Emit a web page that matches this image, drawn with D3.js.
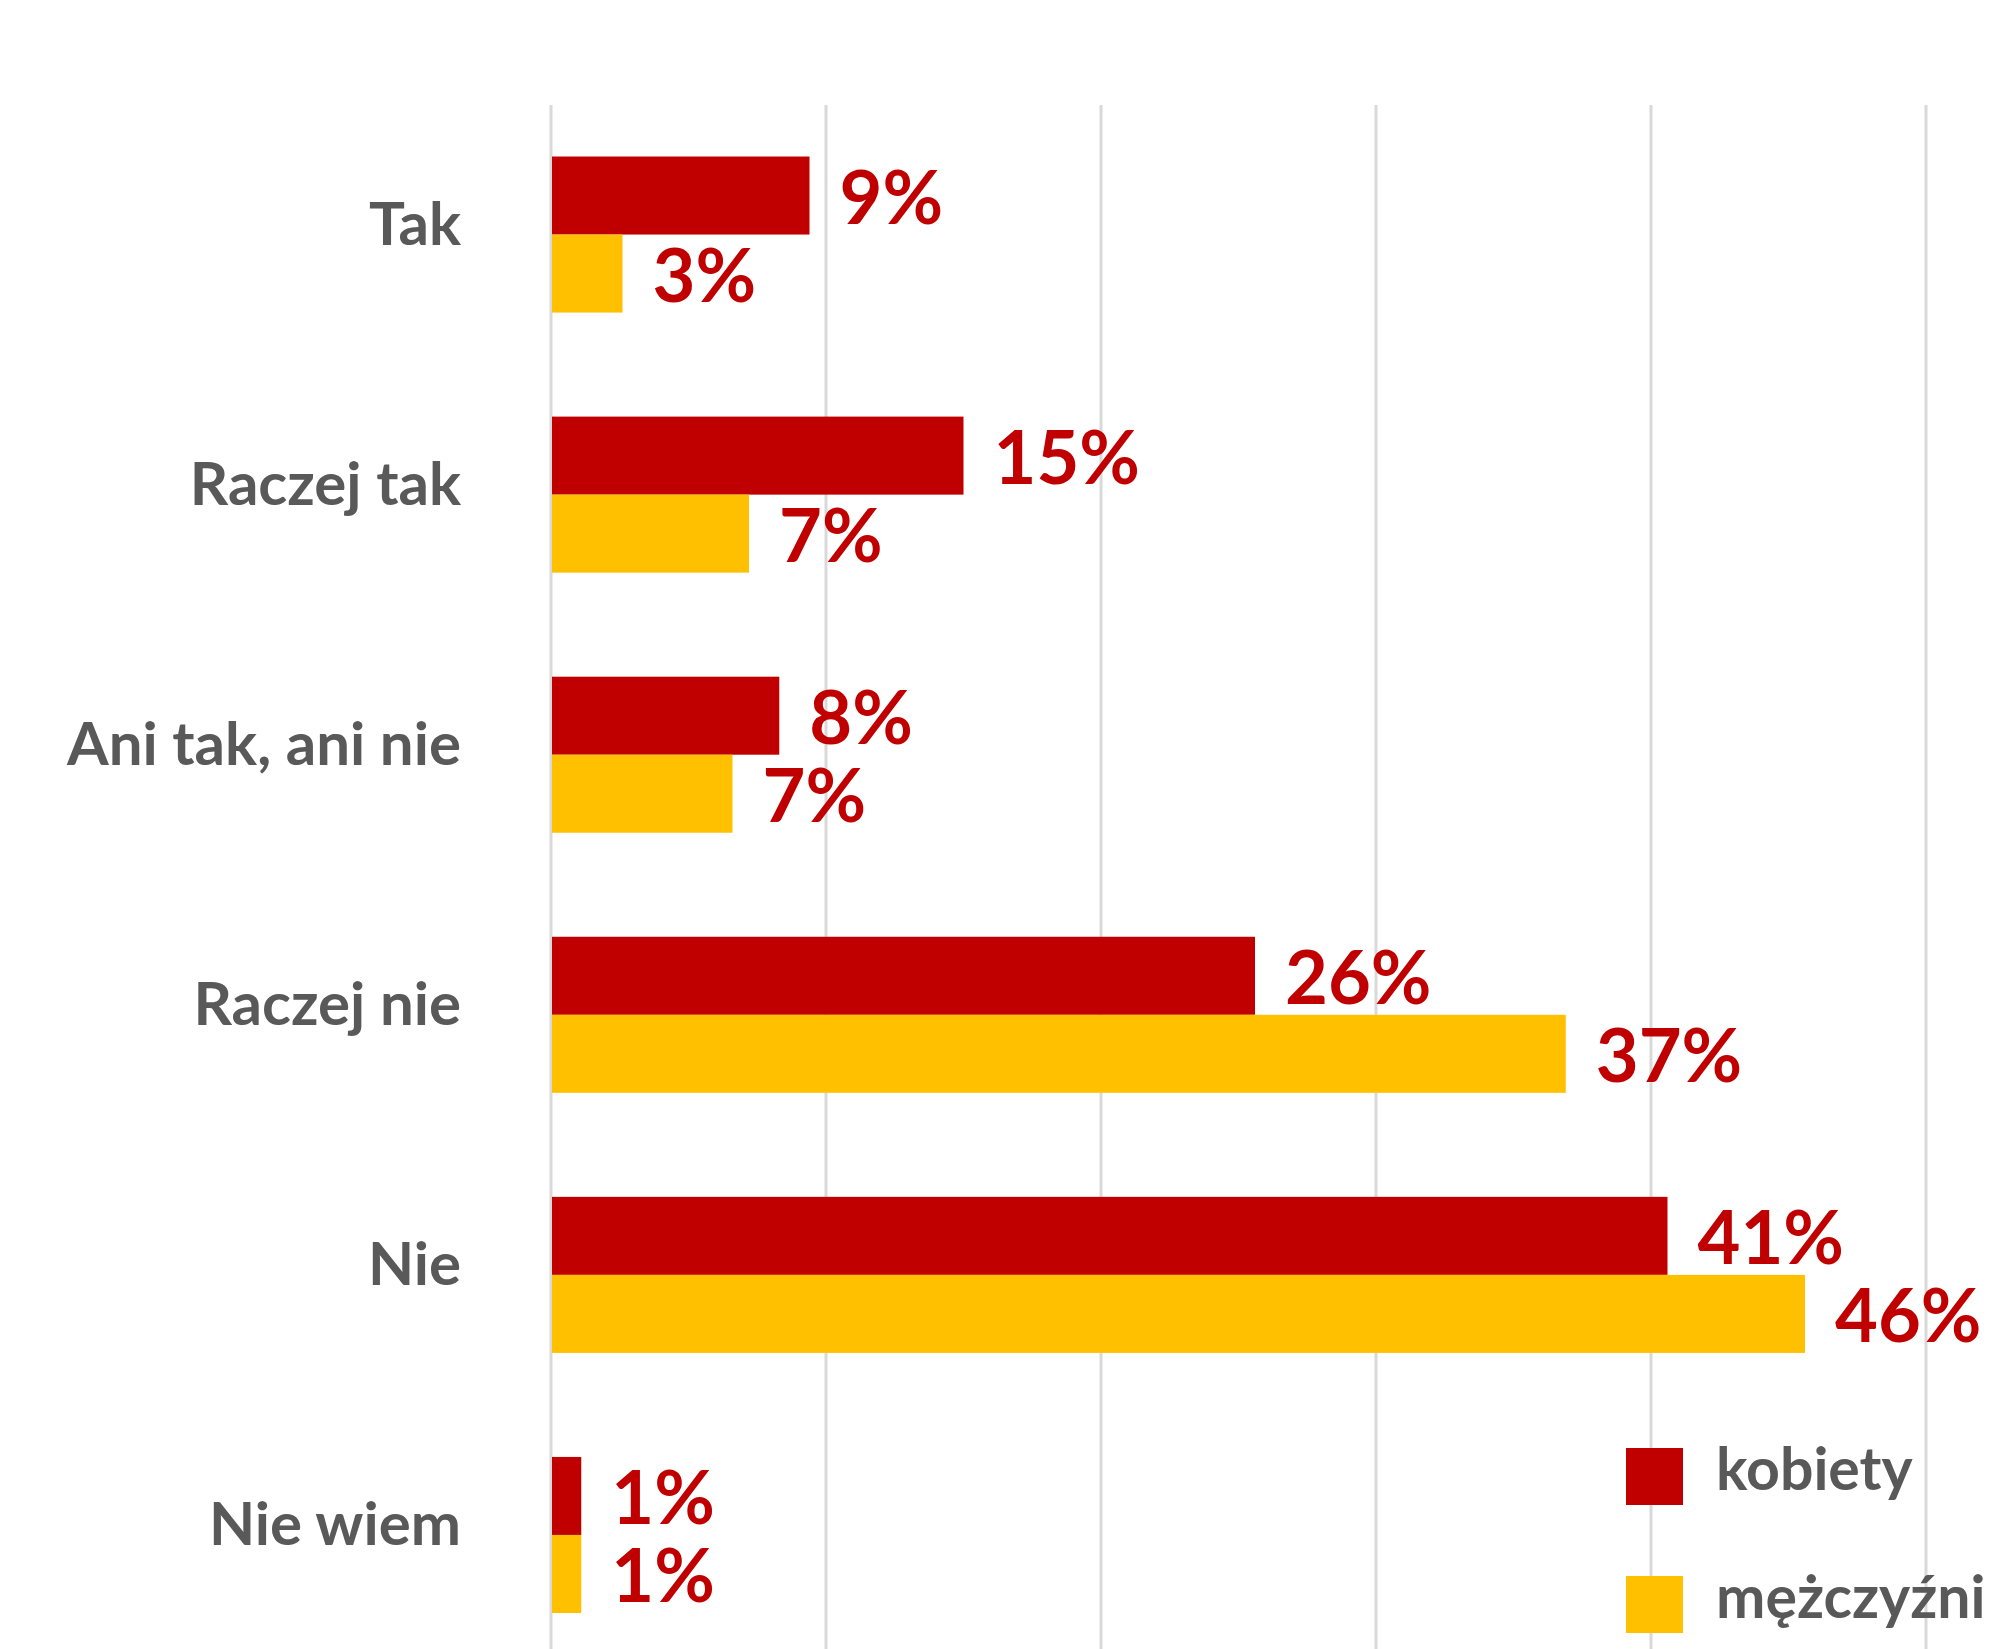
<!DOCTYPE html>
<html>
<head>
<meta charset="utf-8">
<script src="https://cdn.jsdelivr.net/npm/d3@7"></script>
<style>
  body { margin: 0; background: #fff; }
  #chart { width: 2009px; height: 1649px; overflow: hidden; }
</style>
</head>
<body>
<div id="chart"></div>
<script>
// answers (top to bottom)
let categories = ["Tak", "Raczej tak", "Ani tak, ani nie", "Raczej nie", "Nie", "Nie wiem"];
// share of answers in %
let kobiety = [9.4, 15.0, 8.3, 25.6, 40.6, 1.1];
let mezczyzni = [2.6, 7.2, 6.6, 36.9, 45.6, 1.1];
let seriesNames = ["kobiety", "mężczyźni"];
let xTicks = [0, 10, 20, 30, 40, 50];

(function(){
    let colors = {kobiety: "#C00000", "mężczyźni": "#FFC000"};
    let labelColor = "#C00000";
    let textColor = "#595959";
    let font = "Lato, 'Open Sans', sans-serif";

    let svg = d3.select("#chart").append("svg")
        .attr("width", 2009)
        .attr("height", 1649);

    let x = d3.scaleLinear().domain([0, 50]).range([551, 1926]);
    let y = d3.scaleBand().domain(categories).range([104.5, 1665])
        .paddingInner(0.4).paddingOuter(0.2);
    let ySub = d3.scaleBand().domain(seriesNames).range([0, y.bandwidth()]);

    // vertical grid lines
    svg.append("g")
        .selectAll("line")
        .data(xTicks)
        .join("line")
        .attr("x1", d => x(d)).attr("x2", d => x(d))
        .attr("y1", 105).attr("y2", 1665)
        .attr("stroke", "#d9d9d9")
        .attr("stroke-width", 3);

    let rows = categories.map(function(c, i){
        return {cat: c, values: [
            {name: "kobiety", v: kobiety[i]},
            {name: "mężczyźni", v: mezczyzni[i]}
        ]};
    });

    let groups = svg.append("g").selectAll("g")
        .data(rows)
        .join("g")
        .attr("transform", d => "translate(0," + y(d.cat) + ")");

    groups.selectAll("rect")
        .data(d => d.values)
        .join("rect")
        .attr("x", x(0) + 1)
        .attr("y", d => ySub(d.name))
        .attr("width", d => x(d.v) - x(0) - 1)
        .attr("height", ySub.bandwidth())
        .attr("fill", d => colors[d.name]);

    // value labels
    groups.selectAll("text.val")
        .data(d => d.values)
        .join("text")
        .attr("class", "val")
        .attr("x", d => x(d.v) + 30)
        .attr("y", d => ySub(d.name) + ySub.bandwidth() / 2 + 28)
        .attr("font-family", font)
        .attr("font-weight", 700)
        .attr("font-size", 74)
        .attr("fill", labelColor)
        .text(d => Math.round(d.v) + "%");

    // category labels
    svg.append("g").selectAll("text")
        .data(categories)
        .join("text")
        .attr("x", 461)
        .attr("y", d => y(d) + y.bandwidth() / 2 + 10)
        .attr("text-anchor", "end")
        .attr("font-family", font)
        .attr("font-weight", 700)
        .attr("font-size", 60)
        .attr("fill", textColor)
        .text(d => d);

    // legend
    let legend = svg.append("g").attr("transform", "translate(1626,1448)");
    let items = legend.selectAll("g")
        .data(seriesNames)
        .join("g")
        .attr("transform", (d, i) => "translate(0," + (i * 128) + ")");
    items.append("rect")
        .attr("width", 57).attr("height", 57)
        .attr("fill", d => colors[d]);
    items.append("text")
        .attr("x", 90)
        .attr("y", 42)
        .attr("font-family", font)
        .attr("font-weight", 700)
        .attr("font-size", 59)
        .attr("fill", textColor)
        .text(d => d);
})();
</script>
</body>
</html>
